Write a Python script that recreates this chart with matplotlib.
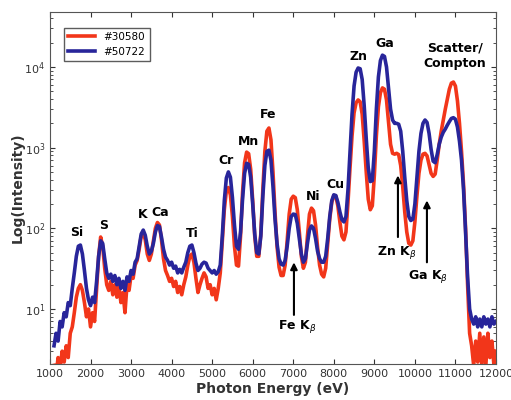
import numpy as np
import matplotlib
matplotlib.use('Agg')
import matplotlib.pyplot as plt

# photon energy grid (eV), 50 eV steps
energy = np.arange(1100, 12001, 50)

# intensity of sample #30580 (red)
i_30580 = [
    2, 1.5, 2.5, 1.8, 3, 2.2, 3.5, 2.5, 5, 6,
    9, 14, 18, 20, 17, 12, 8, 10, 6, 9,
    7, 18, 45, 78, 60, 32, 20, 17, 22, 15,
    20, 14, 19, 12, 16, 9, 20, 17, 26, 24,
    35, 40, 55, 80, 88, 72, 48, 40, 48, 70,
    100, 118, 110, 72, 42, 30, 26, 22, 24, 19,
    22, 16, 19, 15, 20, 25, 35, 45, 48, 38,
    24, 16, 20, 24, 28, 25, 18, 20, 15, 18,
    13, 18, 28, 70, 170, 290, 320, 260, 140, 60,
    35, 34, 80, 280, 650, 880, 840, 540, 220, 80,
    45, 45, 85, 300, 900, 1600, 1750, 1250, 500, 160,
    60, 33, 26, 26, 35, 70, 150, 230, 250, 240,
    170, 90, 45, 32, 38, 80, 150, 178, 165, 110,
    58, 35, 27, 25, 32, 65, 130, 210, 255, 250,
    190, 120, 80, 72, 90, 210, 560, 1400, 2700, 3600,
    3900, 3700, 2600, 1200, 500, 230, 170, 190, 450, 1400,
    3200, 4800, 5500, 5300, 3900, 2100, 1100, 850, 830, 850,
    820, 600, 330, 160, 90, 65, 62, 70, 120, 250,
    480, 700, 830, 850, 790, 620, 480, 440, 470, 700,
    1100, 1600, 2200, 3000, 4000, 5300, 6300, 6500, 5800, 3800,
    2000, 900, 350, 100, 20, 5, 3.5, 2, 4, 2.2,
    5, 2, 4.5, 2, 5, 2.5, 4, 2, 3,
]

# intensity of sample #50722 (blue)
i_50722 = [
    3.5, 5, 4, 7, 6, 9, 8, 12, 11, 18,
    28, 45, 60, 62, 48, 30, 18, 13, 11, 14,
    12, 22, 45, 70, 65, 42, 28, 24, 27, 22,
    26, 20, 24, 18, 22, 17, 25, 22, 30, 27,
    38, 42, 60, 85, 95, 82, 60, 48, 52, 65,
    90, 108, 105, 78, 55, 44, 40, 35, 38, 32,
    34, 28, 31, 28, 33, 38, 50, 60, 62, 50,
    37, 30, 32, 36, 38, 37, 32, 30, 28, 30,
    27, 29, 35, 80, 220, 420, 500, 430, 240, 110,
    60, 55, 90, 230, 480, 640, 620, 430, 200, 85,
    50, 48, 80, 250, 600, 900, 930, 700, 330, 130,
    65, 42, 36, 35, 40, 60, 100, 140, 150, 148,
    115, 75, 48, 38, 42, 65, 95, 107, 100, 75,
    52, 42, 38, 38, 45, 75, 140, 220, 260, 255,
    210, 160, 128, 120, 140, 300, 900, 2600, 5800, 8600,
    9700, 9500, 7000, 3300, 1300, 560, 380, 390, 900, 3000,
    7500, 12000, 14000, 13500, 10000, 5500, 3000, 2200, 2000, 2000,
    1950, 1600, 900, 430, 220, 140, 125, 130, 200, 420,
    900, 1500, 2000, 2200, 2050, 1500, 950, 680, 650, 820,
    1100, 1350, 1550, 1700, 1900, 2100, 2300, 2350, 2250, 1800,
    1200, 700, 300, 90, 25, 10, 7.5, 6.5, 8, 6,
    7.5, 6, 8, 6.5, 7.5, 6, 8, 6.5, 7,
]

# peak labels: (text, energy, intensity)
peak_labels = [
    ('Si', 1666, 90), ('S', 2332, 107), ('K', 3293, 147), ('Ca', 3713, 155),
    ('Ti', 4502, 87), ('Cr', 5340, 684), ('Mn', 5907, 1177), ('Fe', 6376, 2540),
    ('Ni', 7486, 245), ('Cu', 8028, 346), ('Zn', 8620, 13300), ('Ga', 9261, 19300),
    ('Scatter/\nCompton', 10987, 13700),
]

# k-beta arrows: (text, text x, text y, arrow x, tail y, head y)
kbeta = [
    ('Fe K$_\\beta$', 7091, 6.0, 7017, 7.8, 41),
    ('Zn K$_\\beta$', 9557, 50, 9582, 72, 490),
    ('Ga K$_\\beta$', 10322, 25, 10297, 35, 240),
]

fig = plt.figure(figsize=(5.11, 4.0), dpi=100)
ax = fig.add_axes([0.0978, 0.09, 0.8728, 0.88])

ax.plot(energy, i_30580, color='#f2361a', linewidth=2.6, label='#30580')
ax.plot(energy, i_50722, color='#28259a', linewidth=2.6, label='#50722')

ax.set_yscale('log')
ax.set_xlim(1000, 12000)
ax.set_ylim(2.08, 48000)
ax.set_xticks(range(1000, 12001, 1000))
ax.tick_params(axis='both', which='both', direction='in', top=True, right=True,
               labelsize=8, colors='#333333')
ax.tick_params(axis='x', which='minor', bottom=False, top=False)
for s in ax.spines.values():
    s.set_color('#555555')

for text, x, y in peak_labels:
    ax.text(x, y, text, ha='center', va='center', fontsize=9, fontweight='bold')

for text, tx, ty, axx, y0, y1 in kbeta:
    ax.annotate('', xy=(axx, y1), xytext=(axx, y0),
                arrowprops=dict(arrowstyle='-|>', color='black', lw=1.5,
                                mutation_scale=10))
    ax.text(tx, ty, text, ha='center', va='center', fontsize=9, fontweight='bold')

ax.set_xlabel('Photon Energy (eV)', fontsize=10, fontweight='bold', color='#333333',
              labelpad=2)
ax.set_ylabel('Log(Intensity)', fontsize=10, fontweight='bold', color='#333333',
              labelpad=0)
ax.legend(loc='upper left', fontsize=7.5, frameon=True, fancybox=False,
          edgecolor='#333333', handlelength=2.6, borderpad=0.4,
          bbox_to_anchor=(0.02, 0.97))

plt.savefig('out.png', dpi=100)
